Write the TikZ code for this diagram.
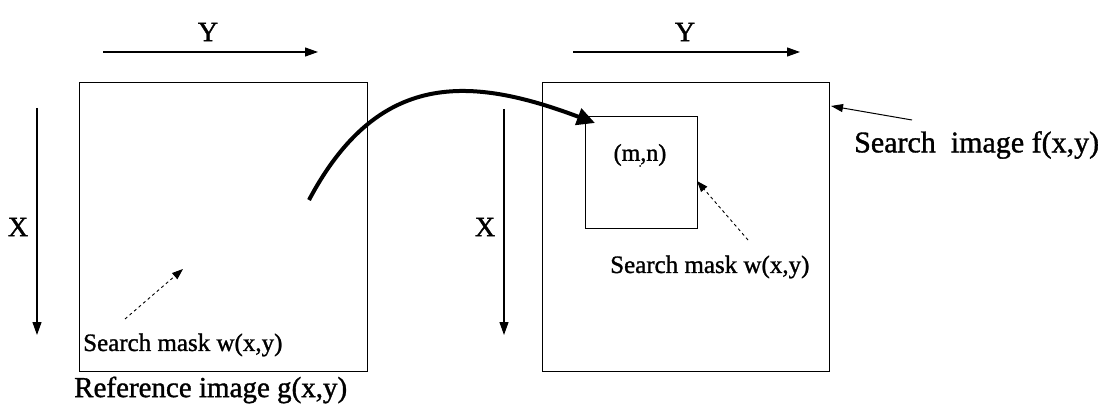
\documentclass[tikz,border=0pt]{standalone}
\usepackage{fontspec}
\setmainfont{Liberation Serif}[FakeBold=1.2]
\usetikzlibrary{arrows.meta}
\begin{document}
\begin{tikzpicture}[x=1pt, y=-1pt,
  frame/.style={draw, line width=1pt, minimum width=#1, inner sep=0pt},
  lbl/.style={inner sep=0pt, font=\fontsize{25}{28}\selectfont},
  axis/.style={line width=1.2pt, -{Triangle[length=13pt, width=9pt]}},
  pointer/.style={line width=0.9pt, dashed, -{Triangle[length=11pt, width=8pt]}},
  >=Triangle
]
\useasboundingbox (0,0) rectangle (1114,406);
% image frames
\node[frame=288pt, minimum height=288pt] (refimg) at (223,227) {};
\node[frame=287pt, minimum height=288pt] (srchimg) at (685.5,227) {};
\node[frame=112pt, minimum height=112pt] (mask) at (641,173) {};
% axes
\coordinate (ly0) at (103,52);  \coordinate (ly1) at (318,52);
\coordinate (lx0) at (37,108);  \coordinate (lx1) at (37,335);
\coordinate (ry0) at (573,52);  \coordinate (ry1) at (800,52);
\coordinate (rx0) at (504,109); \coordinate (rx1) at (504,335);
\draw[axis] (ly0) -- (ly1);
\draw[axis] (lx0) -- (lx1);
\draw[axis] (ry0) -- (ry1);
\draw[axis] (rx0) -- (rx1);
\node[lbl, font=\fontsize{28}{30}\selectfont] (ly) at (208,32) {Y};
\node[lbl, font=\fontsize{28}{30}\selectfont] (lx) at (18,227) {X};
\node[lbl, font=\fontsize{28}{30}\selectfont] (ry) at (685,32) {Y};
\node[lbl, font=\fontsize{28}{30}\selectfont] (rx) at (485,227) {X};
% labels
\node[lbl, anchor=west] (lmask) at (83,345) {Search mask w(x,y)};
\node[lbl, anchor=west, font=\fontsize{29}{32}\selectfont] (reftxt) at (74,390) {Reference image g(x,y)};
\node[lbl, anchor=west] (rmask) at (610,267) {Search mask w(x,y)};
\node[lbl, anchor=west, font=\fontsize{30}{32}\selectfont] (srchtxt) at (854,145) {Search\ \ image f(x,y)};
\node[lbl, font=\fontsize{24}{26}\selectfont] (mn) at (640,155) {(m,n)};
\fill (640,166) circle (1pt);
% pointers
\coordinate (lp0) at (125,319); \coordinate (lp1) at (183,269);
\coordinate (rp0) at (748,240); \coordinate (rp1) at (697,181);
\coordinate (sp0) at (912,120); \coordinate (sp1) at (831,106);
\draw[pointer] (lp0) -- (lp1);
\draw[pointer] (rp0) -- (rp1);
\draw[line width=1pt, -{Triangle[length=12pt, width=8pt]}] (sp0) -- (sp1);
% transfer of the mask
\coordinate (c0) at (309,200);
\coordinate (c1) at (595,123);
\draw[line width=4pt, -{Triangle[length=18pt, width=17pt]}] (c0) .. controls (378,70) and (470,76) .. (c1);
\end{tikzpicture}
\end{document}
